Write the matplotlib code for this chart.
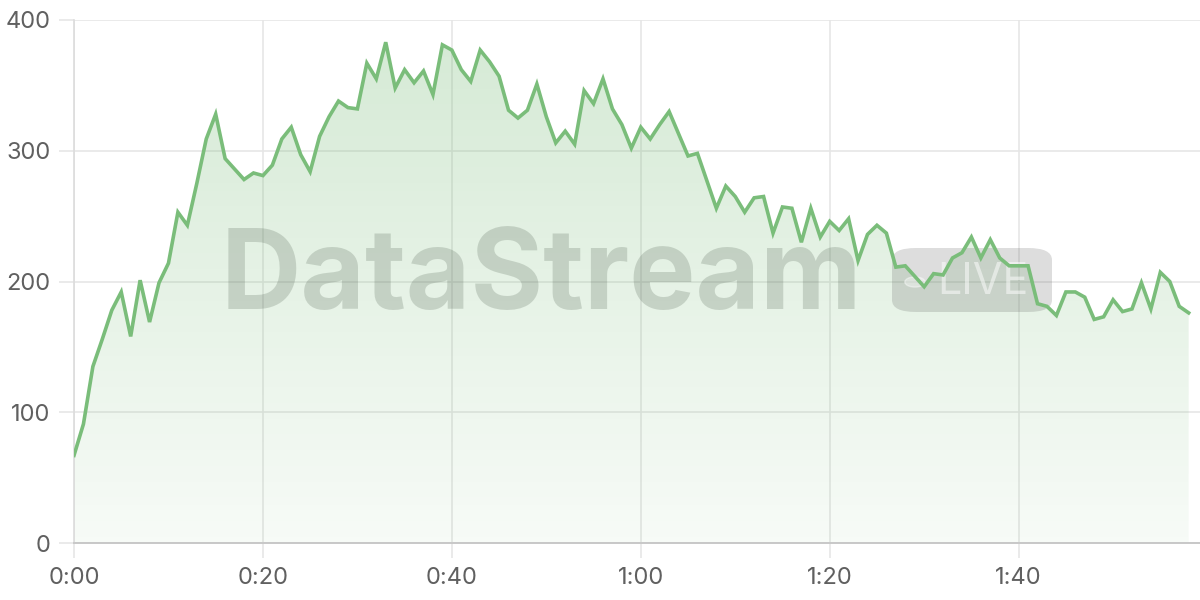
import numpy as np
import matplotlib
matplotlib.use("Agg")
import matplotlib.pyplot as plt
from matplotlib.patches import FancyBboxPatch, Circle
from matplotlib.colors import LinearSegmentedColormap

# one reading per second, 0:00 .. 1:58
values = [67, 91, 135, 156, 178, 192, 158, 201, 169, 199,
          214, 253, 243, 275, 309, 328, 294, 286, 278, 283,
          281, 289, 309, 318, 297, 284, 311, 326, 338, 333,
          332, 367, 355, 383, 348, 362, 352, 361, 343, 381,
          377, 362, 353, 377, 368, 357, 331, 325, 331, 351,
          326, 306, 315, 305, 346, 336, 355, 332, 320, 302,
          318, 309, 320, 330, 313, 296, 298, 277, 256, 273,
          265, 253, 264, 265, 237, 257, 256, 230, 256, 234,
          246, 239, 248, 216, 236, 243, 237, 211, 212, 204,
          196, 206, 205, 218, 222, 234, 218, 232, 218, 212,
          212, 212, 183, 181, 174, 192, 192, 188, 171, 173,
          186, 177, 179, 199, 179, 207, 200, 181, 176]
seconds = np.arange(len(values))
xticks = [0, 20, 40, 60, 80, 100]
xticklabels = ["0:00", "0:20", "0:40", "1:00", "1:20", "1:40"]
yticks = [0, 100, 200, 300, 400]

line_col = "#7abd7a"
grid_col = "#e6e6e6"
label_col = "#606060"

plt.rcParams['font.family'] = ['Inter', 'DejaVu Sans']

fig = plt.figure(figsize=(12, 6), dpi=100)
ax = fig.add_axes([74/1200, 57/600, 1 - 74/1200, (543-20)/600])
ax.set_xlim(0, 119.2)
ax.set_ylim(0, 400)

# gradient area under the line
fill = ax.fill_between(seconds, values, 0, color="none", lw=0)
cmap = LinearSegmentedColormap.from_list(
    "g", [(0.478, 0.741, 0.478, 0.06), (0.478, 0.741, 0.478, 0.32)])
grad = np.linspace(0, 1, 256).reshape(-1, 1)
img = ax.imshow(grad, cmap=cmap, aspect="auto", origin="lower",
                extent=[0, seconds[-1], 0, 400], zorder=1)
img.set_clip_path(fill.get_paths()[0], transform=ax.transData)

# watermark
ax.text(541/1200, 1 - 280/600, "DataStream", transform=fig.transFigure,
        fontsize=80, fontweight="bold", family="Inter", color="#3f4f3f",
        alpha=0.2, ha="center", va="center", zorder=2)
badge = FancyBboxPatch((892/1200, 1 - 312/600), 160/1200, 64/600,
                       boxstyle="round,pad=0,rounding_size=0.02",
                       transform=fig.transFigure, facecolor="#555555",
                       edgecolor="none", alpha=0.2, zorder=2)
ax.add_artist(badge)
ax.text(937/1200, 1 - 283/600, "LIVE", transform=fig.transFigure,
        fontsize=31, family="Inter", color="white", alpha=0.5,
        ha="left", va="center", zorder=2)
ax.add_artist(Circle((915/1200, 1 - 282/600), 0.0085,
                     transform=fig.transFigure, color="white", alpha=0.4,
                     zorder=2))

ax.plot(seconds, values, color=line_col, lw=2.6, zorder=3,
        solid_joinstyle="miter")

ax.set_xticks(xticks)
ax.set_xticklabels(xticklabels)
ax.set_yticks(yticks)
ax.grid(True, color=grid_col, lw=1.2)
ax.set_axisbelow(True)
for side in ["top", "right"]:
    ax.spines[side].set_visible(False)
ax.spines["left"].set_color("#dcdcdc")
ax.spines["left"].set_linewidth(1.2)
ax.spines["bottom"].set_color("#c8c8c8")
ax.spines["bottom"].set_linewidth(1.4)
ax.tick_params(axis="both", length=11, width=1.2, color=grid_col,
               labelsize=17, labelcolor=label_col, pad=6)

fig.savefig("out.png", dpi=100)
